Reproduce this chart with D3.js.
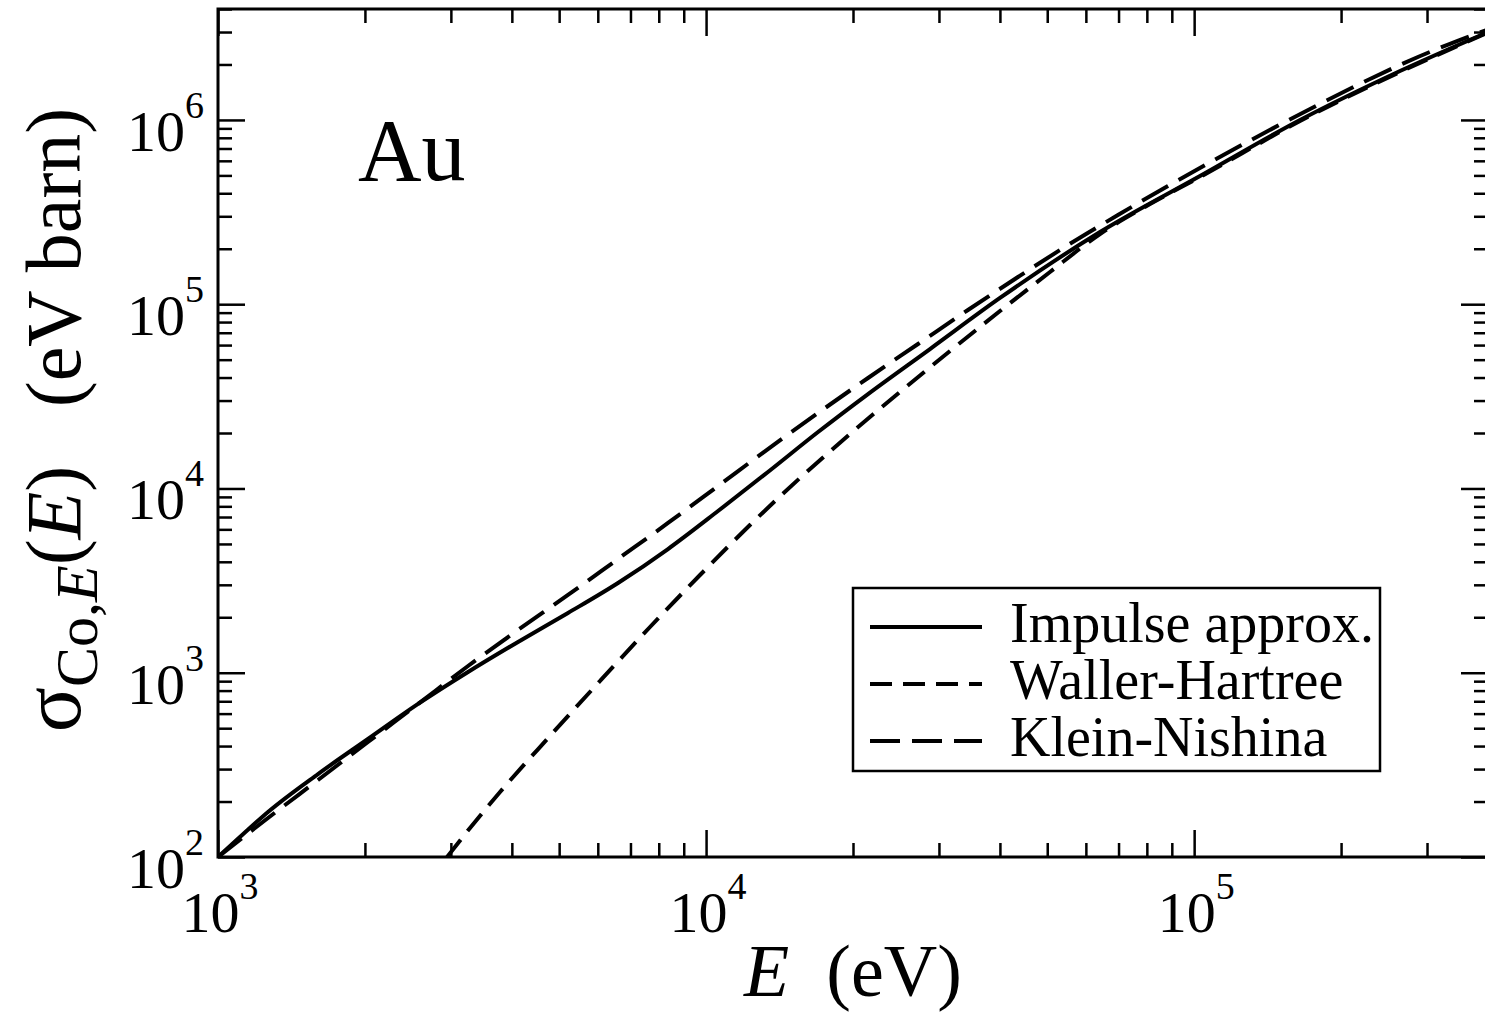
<!DOCTYPE html>
<html>
<head>
<meta charset="utf-8">
<script src="https://cdn.jsdelivr.net/npm/d3@7"></script>
<style>
  html, body { margin: 0; padding: 0; background: #fff; }
  svg { display: block; }
  text { font-family: "Liberation Serif", "Times New Roman", serif; fill: #000; }
</style>
</head>
<body>
<svg id="chart" width="1485" height="1015"></svg>
<script>
// Compton (incoherent) energy-transfer cross section of gold, three models.
// Photon energy E in eV, cross section in eV barn.

const impulseE = [1000, 1125, 1266, 1603, 2029, 2570, 3253, 4118, 5213, 6600, 8356, 10580,
                  13390, 16960, 21470, 28760, 40010, 64140, 102800, 164800, 264100, 400000];
const impulseS = [100, 133, 175.5, 282, 437, 677, 1009, 1469, 2110, 3069, 4693, 7545,
                  12290, 20250, 32550, 57120, 108100, 246500, 496300, 999000, 1843000, 3000000];

const wallerE = [2946, 3284, 3783, 4788, 6063, 7676, 9719, 12300, 15574, 19720, 24960,
                 31610, 40010, 50660, 64140, 81200, 102800, 164800, 264100, 400000];
const wallerS = [100, 143.7, 225.3, 453.5, 902, 1771, 3391, 6334, 11400, 19750, 33390,
                 55720, 91830, 149500, 240400, 349700, 490000, 986700, 1820000, 2980000];

const kleinE = [1000, 1266, 1603, 2029, 2570, 3253, 4118, 5213, 6600, 8356, 10580, 13390,
                16960, 21470, 27180, 34400, 43550, 55140, 69800, 88360, 111900, 141600,
                179300, 227000, 287400, 400000];
const kleinS = [100, 162.8, 261.7, 420.9, 676.6, 1088, 1706, 2642, 4143, 6496, 10310, 16370,
                25680, 39770, 60800, 93010, 140400, 209500, 304800, 437900, 621500, 870900,
                1205000, 1647000, 2195000, 3100000];

const seriesNames = ["Impulse approx.", "Waller-Hartree", "Klein-Nishina"];

const xMajor = [1e3, 1e4, 1e5];
const xExponents = [3, 4, 5];
const yMajor = [1e2, 1e3, 1e4, 1e5, 1e6];
const yExponents = [2, 3, 4, 5, 6];
const xDomain = [1e3, 4e5];
const yDomain = [1e2, 4e6];

// ---- layout ----
const plot = { left: 218, right: 1488, top: 9, bottom: 857 };
const svg = d3.select("#chart");

const x = d3.scaleLog().domain(xDomain).range([plot.left, plot.right]);
const y = d3.scaleLog().domain(yDomain).range([plot.bottom, plot.top]);

// minor tick values: 2..9 times each decade inside the domain
function minors(domain) {
  const out = [];
  for (let p = Math.floor(Math.log10(domain[0])); p <= Math.ceil(Math.log10(domain[1])); p++) {
    for (let m = 2; m <= 9; m++) {
      const v = m * Math.pow(10, p);
      if (v > domain[0] && v <= domain[1] * 1.0001) out.push(v);
    }
  }
  return out;
}
const xMinor = minors(xDomain);
const yMinor = minors(yDomain);

const majorLen = 27, minorLen = 14;

function styleAxis(g) {
  g.select(".domain").remove();
  g.selectAll(".tick line").attr("stroke", "#000").attr("stroke-width", 2.5);
  g.selectAll(".tick text").remove();
}

// bottom & top axes (ticks point inward)
svg.append("g").attr("transform", `translate(0,${plot.bottom})`)
  .call(d3.axisBottom(x).tickValues(xMajor).tickSize(-majorLen).tickFormat("")).call(styleAxis);
svg.append("g").attr("transform", `translate(0,${plot.bottom})`)
  .call(d3.axisBottom(x).tickValues(xMinor).tickSize(-minorLen).tickFormat("")).call(styleAxis);
svg.append("g").attr("transform", `translate(0,${plot.top})`)
  .call(d3.axisTop(x).tickValues(xMajor).tickSize(-majorLen).tickFormat("")).call(styleAxis);
svg.append("g").attr("transform", `translate(0,${plot.top})`)
  .call(d3.axisTop(x).tickValues(xMinor).tickSize(-minorLen).tickFormat("")).call(styleAxis);

// left & right axes
svg.append("g").attr("transform", `translate(${plot.left},0)`)
  .call(d3.axisLeft(y).tickValues(yMajor).tickSize(-majorLen).tickFormat("")).call(styleAxis);
svg.append("g").attr("transform", `translate(${plot.left},0)`)
  .call(d3.axisLeft(y).tickValues(yMinor).tickSize(-minorLen).tickFormat("")).call(styleAxis);
svg.append("g").attr("transform", `translate(${plot.right},0)`)
  .call(d3.axisRight(y).tickValues(yMajor).tickSize(-majorLen).tickFormat("")).call(styleAxis);
svg.append("g").attr("transform", `translate(${plot.right},0)`)
  .call(d3.axisRight(y).tickValues(yMinor).tickSize(-minorLen).tickFormat("")).call(styleAxis);

// frame
svg.append("rect")
  .attr("x", plot.left).attr("y", plot.top)
  .attr("width", plot.right - plot.left).attr("height", plot.bottom - plot.top)
  .attr("fill", "none").attr("stroke", "#000").attr("stroke-width", 3);

// ---- tick labels as powers of ten ----
const labelSize = 58, supSize = 38, supRaise = 33;

xMajor.forEach((v, i) => {
  const t = svg.append("text")
    .attr("x", x(v) + 2).attr("y", plot.bottom + 75)
    .attr("text-anchor", "middle")
    .style("font-size", labelSize + "px");
  t.append("tspan").text("10");
  t.append("tspan").attr("dy", -supRaise).style("font-size", supSize + "px").text(xExponents[i]);
});

yMajor.forEach((v, i) => {
  const t = svg.append("text")
    .attr("x", plot.left - 14).attr("y", y(v) + 31)
    .attr("text-anchor", "end")
    .style("font-size", labelSize + "px");
  t.append("tspan").text("10");
  t.append("tspan").attr("dy", -supRaise).style("font-size", supSize + "px").text(yExponents[i]);
});

// ---- axis titles ----
const xt = svg.append("text")
  .attr("x", (plot.left + plot.right) / 2).attr("y", 996)
  .attr("text-anchor", "middle")
  .style("font-size", "74px");
xt.append("tspan").style("font-style", "italic").text("E");
xt.append("tspan").text("\u00a0\u00a0(eV)");

const yt = svg.append("text")
  .attr("transform", `translate(80,420) rotate(-90)`)
  .attr("text-anchor", "middle")
  .style("font-size", "78px");
yt.append("tspan").style("font-size", "84px").text("σ");
yt.append("tspan").attr("dy", 17).style("font-size", "60px").text("Co,");
yt.append("tspan").style("font-size", "60px").style("font-style", "italic").text("E");
yt.append("tspan").attr("dy", -17).text("(");
yt.append("tspan").style("font-style", "italic").text("E");
yt.append("tspan").text(")\u00a0\u00a0\u00a0(eV barn)");

// element label
svg.append("text")
  .attr("x", 358).attr("y", 180)
  .style("font-size", "88px")
  .text("Au");

// ---- curves ----
svg.append("clipPath").attr("id", "plotclip")
  .append("rect")
  .attr("x", plot.left).attr("y", plot.top)
  .attr("width", plot.right - plot.left).attr("height", plot.bottom - plot.top);

const line = d3.line()
  .x(d => x(d[0]))
  .y(d => y(d[1]))
  .curve(d3.curveMonotoneX);

const dashes = ["none", "22,11", "30,12"];
const series = [
  d3.zip(impulseE, impulseS),
  d3.zip(wallerE, wallerS),
  d3.zip(kleinE, kleinS)
];

const curves = svg.append("g").attr("clip-path", "url(#plotclip)");
series.forEach((pts, i) => {
  curves.append("path")
    .datum(pts)
    .attr("d", line)
    .attr("fill", "none")
    .attr("stroke", "#000")
    .attr("stroke-width", 4)
    .attr("stroke-dasharray", dashes[i]);
});

// ---- legend ----
const legend = svg.append("g");
legend.append("rect")
  .attr("x", 853).attr("y", 588)
  .attr("width", 527).attr("height", 183)
  .attr("fill", "#fff").attr("stroke", "#000").attr("stroke-width", 2.5);

const rowBase = [642, 699, 756];
seriesNames.forEach((name, i) => {
  const cy = rowBase[i] - 15;
  legend.append("line")
    .attr("x1", 870).attr("x2", 982)
    .attr("y1", cy).attr("y2", cy)
    .attr("stroke", "#000").attr("stroke-width", 4)
    .attr("stroke-dasharray", dashes[i]);
  legend.append("text")
    .attr("x", 1010).attr("y", rowBase[i])
    .style("font-size", "56px")
    .text(name);
});
</script>
</body>
</html>
